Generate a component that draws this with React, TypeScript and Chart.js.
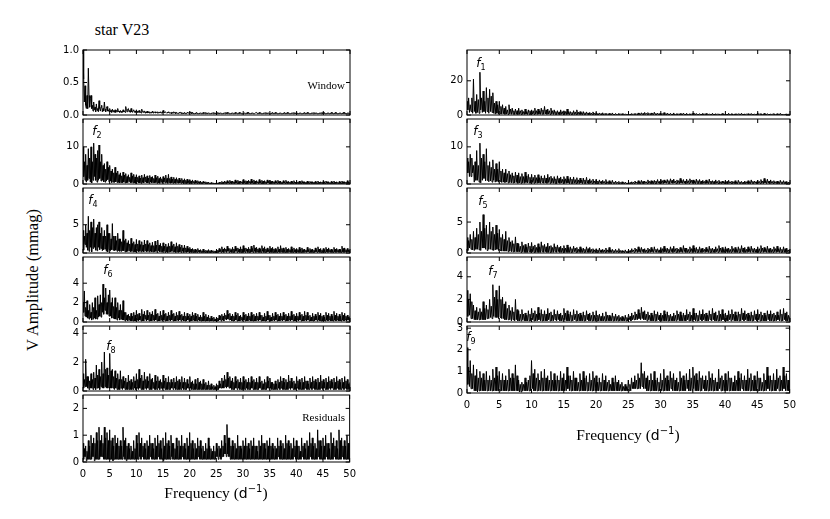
import React, { useEffect, useRef } from "react";
import { Chart, registerables } from "chart.js";

Chart.register(...registerables);

// Frequency grid of the periodograms (d^-1), 0 .. 50
const FREQ_STEP = 0.125;
const X_TICK_STEP = 5;

// Amplitudes (window: relative; others: mmag), one row per 1 d^-1 (8 samples)
const windowAmp = [
  1.0, 0.55, 0.2, 0.45, 0.15, 0.1, 0.3, 0.1,
  0.72, 0.3, 0.12, 0.25, 0.3, 0.1, 0.15, 0.06,
  0.2, 0.08, 0.12, 0.05, 0.17, 0.07, 0.1, 0.05,
  0.22, 0.1, 0.06, 0.12, 0.15, 0.05, 0.1, 0.06,
  0.2, 0.09, 0.05, 0.1, 0.13, 0.06, 0.08, 0.05,
  0.1, 0.05, 0.07, 0.04, 0.09, 0.05, 0.07, 0.04,
  0.08, 0.04, 0.07, 0.05, 0.1, 0.05, 0.06, 0.04,
  0.07, 0.04, 0.06, 0.04, 0.08, 0.05, 0.06, 0.04,
  0.13, 0.07, 0.05, 0.09, 0.1, 0.05, 0.07, 0.04,
  0.1, 0.05, 0.04, 0.07, 0.08, 0.04, 0.06, 0.04,
  0.08, 0.04, 0.06, 0.04, 0.07, 0.04, 0.05, 0.03,
  0.09, 0.05, 0.04, 0.06, 0.06, 0.03, 0.05, 0.03,
  0.06, 0.03, 0.05, 0.03, 0.05, 0.03, 0.04, 0.03,
  0.06, 0.03, 0.05, 0.04, 0.05, 0.03, 0.04, 0.03,
  0.05, 0.03, 0.04, 0.03, 0.05, 0.03, 0.04, 0.03,
  0.07, 0.04, 0.03, 0.05, 0.05, 0.03, 0.04, 0.03,
  0.05, 0.03, 0.04, 0.03, 0.04, 0.02, 0.04, 0.03,
  0.05, 0.03, 0.04, 0.02, 0.04, 0.03, 0.03, 0.02,
  0.04, 0.03, 0.04, 0.02, 0.04, 0.02, 0.03, 0.02,
  0.04, 0.02, 0.03, 0.02, 0.04, 0.03, 0.03, 0.02,
  0.05, 0.03, 0.04, 0.02, 0.04, 0.02, 0.03, 0.02,
  0.03, 0.02, 0.04, 0.02, 0.03, 0.02, 0.03, 0.02,
  0.03, 0.02, 0.03, 0.02, 0.04, 0.02, 0.03, 0.02,
  0.04, 0.02, 0.03, 0.02, 0.03, 0.02, 0.03, 0.02,
  0.03, 0.02, 0.03, 0.02, 0.04, 0.02, 0.03, 0.02,
  0.03, 0.02, 0.04, 0.02, 0.03, 0.02, 0.03, 0.02,
  0.03, 0.02, 0.03, 0.02, 0.03, 0.02, 0.04, 0.02,
  0.04, 0.02, 0.03, 0.02, 0.03, 0.02, 0.03, 0.02,
  0.03, 0.02, 0.03, 0.02, 0.04, 0.02, 0.03, 0.02,
  0.03, 0.02, 0.04, 0.02, 0.03, 0.02, 0.03, 0.02,
  0.03, 0.02, 0.03, 0.02, 0.03, 0.02, 0.04, 0.02,
  0.04, 0.02, 0.03, 0.02, 0.03, 0.02, 0.03, 0.02,
  0.03, 0.02, 0.03, 0.03, 0.04, 0.02, 0.03, 0.02,
  0.04, 0.02, 0.03, 0.02, 0.03, 0.02, 0.03, 0.02,
  0.03, 0.02, 0.04, 0.02, 0.03, 0.02, 0.03, 0.02,
  0.03, 0.02, 0.03, 0.02, 0.04, 0.02, 0.03, 0.02,
  0.04, 0.02, 0.03, 0.02, 0.03, 0.02, 0.03, 0.02,
  0.03, 0.02, 0.03, 0.02, 0.03, 0.02, 0.04, 0.02,
  0.03, 0.02, 0.04, 0.02, 0.03, 0.02, 0.03, 0.02,
  0.03, 0.02, 0.03, 0.02, 0.04, 0.02, 0.03, 0.02,
  0.04, 0.02, 0.03, 0.02, 0.03, 0.02, 0.03, 0.02,
  0.03, 0.02, 0.03, 0.02, 0.04, 0.02, 0.03, 0.02,
  0.04, 0.02, 0.03, 0.02, 0.03, 0.02, 0.03, 0.02,
  0.03, 0.02, 0.04, 0.02, 0.03, 0.02, 0.03, 0.02,
  0.03, 0.02, 0.03, 0.02, 0.03, 0.02, 0.04, 0.02,
  0.04, 0.02, 0.03, 0.02, 0.03, 0.02, 0.03, 0.02,
  0.03, 0.02, 0.03, 0.02, 0.04, 0.02, 0.03, 0.02,
  0.03, 0.02, 0.04, 0.02, 0.03, 0.02, 0.03, 0.02,
  0.03, 0.02, 0.03, 0.02, 0.03, 0.02, 0.04, 0.02,
  0.04, 0.02, 0.03, 0.02, 0.03, 0.02, 0.03, 0.02,
  0.03,
];

const f1Amp = [
  8, 3, 10, 1.5, 6, 2, 10, 1,
  21, 2, 8, 1, 12, 1.5, 9, 1,
  25, 3, 10, 1.5, 14, 2, 8, 1,
  16, 2, 10, 1, 15, 2, 11, 1.5,
  13, 1, 7, 0.5, 8, 1, 6, 0.5,
  8, 0.8, 5, 0.5, 6, 0.7, 4, 0.4,
  5, 0.5, 3, 0.3, 6, 0.6, 3.5, 0.4,
  4, 0.5, 2.5, 0.3, 3.5, 0.4, 2.5, 0.3,
  4, 0.4, 2.5, 0.3, 3, 0.4, 2, 0.3,
  3.5, 0.5, 2, 0.3, 3, 0.4, 2.5, 0.2,
  3, 0.5, 2.5, 0.3, 4, 0.5, 2.5, 0.3,
  3.5, 0.5, 2.5, 0.4, 4, 0.5, 3, 0.4,
  5, 0.6, 3, 0.4, 3.5, 0.5, 2.5, 0.3,
  4, 0.5, 2.5, 0.3, 3, 0.4, 2, 0.2,
  2.5, 0.3, 1.8, 0.2, 3, 0.4, 2, 0.3,
  2.5, 0.3, 2, 0.2, 3.5, 0.4, 2, 0.2,
  2, 0.3, 1.5, 0.2, 2.5, 0.3, 1.8, 0.2,
  3, 0.3, 1.6, 0.2, 2, 0.3, 1.4, 0.2,
  2, 0.2, 1.3, 0.2, 1.8, 0.3, 1.2, 0.1,
  1.5, 0.2, 1.1, 0.1, 1.8, 0.2, 1, 0.1,
  1.5, 0.2, 0.9, 0.1, 1.2, 0.2, 0.8, 0.1,
  1.3, 0.1, 0.8, 0.1, 1.1, 0.2, 0.7, 0.1,
  1, 0.1, 0.7, 0.1, 1.2, 0.1, 0.6, 0.1,
  0.9, 0.1, 0.6, 0.1, 1, 0.1, 0.5, 0.1,
  0.8, 0.1, 0.5, 0.1, 0.7, 0.1, 0.4, 0.1,
  0.6, 0.1, 0.5, 0.1, 0.9, 0.2, 0.6, 0.1,
  1, 0.2, 0.7, 0.1, 1.2, 0.2, 0.8, 0.2,
  1.3, 0.2, 0.9, 0.2, 1.5, 0.3, 1, 0.2,
  1.4, 0.2, 0.8, 0.1, 1.2, 0.2, 0.9, 0.2,
  1.6, 0.2, 0.9, 0.1, 1.1, 0.2, 0.8, 0.1,
  1.2, 0.2, 0.8, 0.1, 1.4, 0.2, 0.7, 0.1,
  1.1, 0.1, 0.7, 0.1, 1, 0.2, 0.6, 0.1,
  1.2, 0.1, 0.6, 0.1, 0.9, 0.1, 0.7, 0.1,
  0.9, 0.1, 0.7, 0.1, 1.1, 0.2, 0.6, 0.1,
  1, 0.1, 0.6, 0.1, 0.8, 0.1, 0.7, 0.1,
  1.2, 0.2, 0.7, 0.1, 0.9, 0.1, 0.5, 0.1,
  0.8, 0.1, 0.6, 0.1, 1, 0.1, 0.7, 0.1,
  0.9, 0.1, 0.5, 0.1, 0.7, 0.1, 0.6, 0.1,
  1, 0.1, 0.6, 0.1, 0.8, 0.1, 0.5, 0.1,
  0.7, 0.1, 0.6, 0.1, 0.9, 0.1, 0.5, 0.1,
  0.8, 0.1, 0.5, 0.1, 1, 0.1, 0.6, 0.1,
  0.9, 0.1, 0.6, 0.1, 0.7, 0.1, 0.5, 0.1,
  0.8, 0.1, 0.7, 0.1, 1, 0.1, 0.6, 0.1,
  0.7, 0.1, 0.5, 0.1, 0.8, 0.1, 0.6, 0.1,
  0.9, 0.1, 0.6, 0.1, 0.7, 0.1, 0.5, 0.1,
  1.3, 0.2, 0.7, 0.1, 0.9, 0.1, 0.6, 0.1,
  1, 0.1, 0.6, 0.1, 0.8, 0.1, 0.5, 0.1,
  0.7, 0.1, 0.5, 0.1, 0.9, 0.1, 0.6, 0.1,
  0.8, 0.1, 0.6, 0.1, 1, 0.1, 0.5, 0.1,
  0.6, 0.1, 0.5, 0.1, 0.7, 0.1, 0.4, 0.1,
  0.5,
];

const f2Amp = [
  10, 2, 6, 1, 8, 0.5, 5, 1,
  9.5, 1.5, 7, 0.5, 10, 0.3, 6, 1,
  11, 2, 8, 1, 7, 0.5, 9, 1,
  10.5, 1.5, 6, 0.8, 8, 1, 5, 0.6,
  5.5, 0.5, 4, 0.8, 6, 1.2, 4.5, 0.5,
  5, 0.8, 3.5, 0.4, 4, 0.5, 3, 0.4,
  4.5, 0.6, 3, 0.4, 3.5, 0.4, 2.5, 0.3,
  3, 0.4, 2.2, 0.3, 3.2, 0.5, 2.4, 0.3,
  2.8, 0.3, 2, 0.4, 2.5, 0.7, 1.8, 0.3,
  3, 0.4, 2.2, 0.3, 2.6, 0.3, 1.9, 0.2,
  2.5, 0.6, 1.8, 0.3, 2.2, 0.3, 1.6, 0.2,
  2.4, 0.4, 1.7, 0.3, 2.6, 0.6, 1.9, 0.3,
  2.2, 0.3, 1.6, 0.2, 2.3, 0.5, 1.8, 0.3,
  2, 0.4, 1.5, 0.3, 2.4, 0.4, 1.7, 0.2,
  2.1, 0.3, 1.5, 0.2, 1.9, 0.5, 1.4, 0.2,
  2, 0.5, 1.6, 0.3, 2.4, 0.4, 1.5, 0.2,
  2.6, 0.4, 1.5, 0.2, 1.9, 0.3, 1.3, 0.2,
  1.8, 0.3, 1.3, 0.2, 1.7, 0.4, 1.2, 0.2,
  1.6, 0.3, 1.1, 0.2, 1.5, 0.3, 1, 0.1,
  1.4, 0.2, 1, 0.1, 1.3, 0.2, 0.9, 0.1,
  1.2, 0.2, 0.8, 0.1, 1.1, 0.3, 0.7, 0.1,
  1, 0.2, 0.7, 0.1, 0.9, 0.2, 0.6, 0.1,
  0.8, 0.1, 0.5, 0.1, 0.7, 0.2, 0.5, 0.1,
  0.6, 0.1, 0.4, 0.1, 0.5, 0.1, 0.3, 0.05,
  0.4, 0.1, 0.3, 0.05, 0.3, 0.05, 0.2, 0.05,
  0.4, 0.1, 0.3, 0.05, 0.5, 0.1, 0.4, 0.1,
  0.7, 0.1, 0.5, 0.1, 0.8, 0.2, 0.6, 0.1,
  0.9, 0.2, 0.6, 0.1, 1, 0.2, 0.7, 0.1,
  0.8, 0.2, 0.6, 0.1, 1.1, 0.2, 0.7, 0.1,
  1, 0.1, 0.7, 0.1, 0.8, 0.3, 0.6, 0.1,
  1.2, 0.2, 0.7, 0.1, 0.9, 0.1, 0.8, 0.1,
  1, 0.3, 0.7, 0.1, 1.3, 0.2, 0.8, 0.1,
  1.1, 0.1, 0.8, 0.1, 0.9, 0.3, 0.6, 0.1,
  1.2, 0.2, 0.7, 0.1, 1, 0.1, 0.8, 0.1,
  0.9, 0.2, 0.6, 0.1, 1.1, 0.3, 0.7, 0.1,
  1, 0.1, 0.7, 0.1, 0.8, 0.2, 0.6, 0.1,
  0.9, 0.2, 0.6, 0.1, 1, 0.2, 0.7, 0.1,
  0.8, 0.1, 0.5, 0.1, 0.9, 0.2, 0.6, 0.1,
  1, 0.2, 0.6, 0.1, 0.7, 0.2, 0.5, 0.1,
  0.8, 0.1, 0.6, 0.1, 0.9, 0.2, 0.5, 0.1,
  0.7, 0.2, 0.5, 0.1, 0.8, 0.1, 0.6, 0.1,
  0.9, 0.2, 0.6, 0.1, 0.6, 0.1, 0.5, 0.1,
  0.8, 0.1, 0.5, 0.1, 0.7, 0.2, 0.6, 0.1,
  0.6, 0.1, 0.5, 0.1, 0.7, 0.1, 0.4, 0.1,
  0.8, 0.1, 0.5, 0.1, 0.6, 0.2, 0.5, 0.1,
  0.7, 0.1, 0.5, 0.1, 0.8, 0.2, 0.6, 0.1,
  0.6, 0.1, 0.4, 0.1, 0.7, 0.1, 0.5, 0.1,
  0.8, 0.1, 0.5, 0.1, 0.6, 0.2, 0.4, 0.1,
  0.7, 0.1, 0.5, 0.1, 0.8, 0.1, 0.6, 0.1,
  0.6, 0.2, 0.5, 0.1, 0.9, 0.1, 0.5, 0.1,
  0.5,
];

const f3Amp = [
  7, 3, 6, 2, 8, 2, 7, 3,
  5, 0.5, 6, 1, 9, 1, 5, 0.5,
  11, 0.3, 7, 1, 8, 1.5, 6, 0.8,
  9.5, 1, 5, 0.6, 6, 0.8, 4.5, 0.5,
  6.5, 1, 4, 0.5, 5.5, 0.7, 4, 0.5,
  6, 0.7, 3.5, 0.4, 4, 0.5, 3, 0.4,
  4, 0.5, 2.8, 0.3, 3.5, 0.4, 2.5, 0.3,
  3, 0.3, 2.2, 0.3, 3.2, 0.4, 2.4, 0.2,
  3, 0.3, 2, 0.2, 2.8, 0.3, 2, 0.2,
  3.2, 0.4, 2.2, 0.3, 2.6, 0.3, 1.8, 0.2,
  2.6, 0.4, 1.8, 0.2, 2.4, 0.3, 1.7, 0.2,
  2.5, 0.3, 1.7, 0.2, 2.2, 0.4, 1.6, 0.2,
  2.3, 0.3, 1.6, 0.2, 2.6, 0.4, 1.8, 0.2,
  2.1, 0.3, 1.5, 0.2, 2, 0.2, 1.4, 0.1,
  2.2, 0.3, 1.5, 0.2, 1.9, 0.3, 1.3, 0.2,
  2, 0.2, 1.4, 0.2, 2.1, 0.3, 1.4, 0.1,
  1.8, 0.2, 1.3, 0.1, 1.9, 0.2, 1.2, 0.1,
  1.7, 0.2, 1.1, 0.1, 1.6, 0.3, 1.1, 0.1,
  1.6, 0.2, 1.1, 0.1, 1.8, 0.2, 1, 0.1,
  1.4, 0.2, 0.9, 0.1, 1.3, 0.2, 0.8, 0.1,
  1.3, 0.1, 0.8, 0.1, 1.1, 0.2, 0.7, 0.1,
  1, 0.2, 0.7, 0.1, 1.2, 0.1, 0.6, 0.1,
  0.9, 0.1, 0.6, 0.1, 1, 0.2, 0.5, 0.1,
  0.8, 0.1, 0.5, 0.1, 0.7, 0.1, 0.4, 0.05,
  0.6, 0.1, 0.4, 0.05, 0.5, 0.1, 0.3, 0.05,
  0.5, 0.1, 0.4, 0.1, 0.6, 0.1, 0.5, 0.1,
  0.8, 0.2, 0.5, 0.1, 0.9, 0.1, 0.6, 0.1,
  1, 0.1, 0.7, 0.1, 0.8, 0.2, 0.6, 0.1,
  1.1, 0.2, 0.7, 0.1, 0.9, 0.1, 0.8, 0.1,
  1, 0.1, 0.8, 0.1, 1.2, 0.2, 0.7, 0.1,
  1.3, 0.2, 0.9, 0.1, 1.1, 0.3, 0.8, 0.2,
  1.2, 0.2, 0.9, 0.1, 1.4, 0.3, 1, 0.2,
  1.3, 0.3, 0.8, 0.1, 1.1, 0.2, 0.9, 0.1,
  1.5, 0.3, 1, 0.2, 1.2, 0.2, 0.8, 0.1,
  1.3, 0.2, 0.9, 0.1, 1.4, 0.3, 1, 0.2,
  1.1, 0.2, 0.8, 0.1, 1.3, 0.2, 0.9, 0.1,
  1.2, 0.1, 0.8, 0.1, 1, 0.2, 0.7, 0.1,
  1.1, 0.2, 0.7, 0.1, 1.3, 0.2, 0.8, 0.1,
  0.9, 0.1, 0.7, 0.1, 1.1, 0.2, 0.7, 0.1,
  1, 0.1, 0.6, 0.1, 0.8, 0.2, 0.6, 0.1,
  0.9, 0.1, 0.7, 0.1, 1, 0.2, 0.6, 0.1,
  0.8, 0.1, 0.6, 0.1, 0.9, 0.1, 0.5, 0.1,
  1, 0.2, 0.6, 0.1, 0.7, 0.1, 0.5, 0.1,
  0.8, 0.1, 0.6, 0.1, 0.9, 0.1, 0.6, 0.1,
  1.1, 0.2, 0.7, 0.1, 0.8, 0.2, 0.6, 0.1,
  1, 0.2, 0.7, 0.1, 1.2, 0.2, 0.8, 0.1,
  1.5, 0.3, 0.9, 0.1, 1.3, 0.2, 0.8, 0.1,
  1.1, 0.2, 0.7, 0.1, 0.9, 0.2, 0.6, 0.1,
  0.8, 0.1, 0.6, 0.1, 1, 0.2, 0.6, 0.1,
  0.9, 0.1, 0.6, 0.1, 0.7, 0.1, 0.5, 0.1,
  0.5,
];

const f4Amp = [
  4, 0.5, 3, 1.5, 5, 1, 3.5, 0.5,
  6.5, 0.3, 4, 1, 5.5, 0.2, 4.5, 0.8,
  6, 1, 3.5, 0.5, 4.5, 0.4, 5, 1,
  5.5, 0.6, 3.5, 0.8, 4.5, 0.4, 3, 0.6,
  4, 0.7, 3, 0.3, 5, 0.2, 3.5, 0.6,
  3.5, 0.4, 2.5, 0.6, 5.2, 0.5, 3, 0.4,
  3, 0.5, 2.2, 0.3, 3.5, 0.4, 2.5, 0.3,
  2.5, 0.3, 2, 0.4, 4, 0.4, 2.2, 0.2,
  2.5, 0.2, 1.8, 0.3, 2.2, 0.4, 1.6, 0.2,
  2.6, 0.3, 1.7, 0.2, 2, 0.2, 1.5, 0.2,
  2.4, 0.4, 1.6, 0.2, 2.2, 0.3, 1.5, 0.2,
  2, 0.3, 1.4, 0.2, 2.3, 0.4, 1.6, 0.2,
  2.2, 0.3, 1.5, 0.2, 1.8, 0.3, 1.3, 0.2,
  1.9, 0.2, 1.3, 0.2, 2.1, 0.3, 1.4, 0.1,
  2.3, 0.4, 1.4, 0.2, 1.7, 0.2, 1.2, 0.2,
  1.8, 0.3, 1.2, 0.1, 1.6, 0.2, 1.1, 0.1,
  1.7, 0.2, 1.2, 0.2, 2, 0.3, 1.3, 0.2,
  1.6, 0.2, 1.1, 0.1, 1.8, 0.2, 1.2, 0.1,
  1.5, 0.2, 1, 0.1, 1.4, 0.3, 0.9, 0.1,
  1.4, 0.2, 0.9, 0.1, 1.2, 0.2, 0.8, 0.1,
  1, 0.2, 0.7, 0.1, 0.8, 0.1, 0.6, 0.1,
  0.7, 0.1, 0.5, 0.1, 0.8, 0.2, 0.5, 0.1,
  0.6, 0.1, 0.4, 0.1, 0.7, 0.1, 0.4, 0.05,
  0.5, 0.1, 0.4, 0.05, 0.6, 0.1, 0.4, 0.05,
  0.5, 0.1, 0.3, 0.05, 0.4, 0.1, 0.3, 0.05,
  0.6, 0.1, 0.5, 0.1, 0.8, 0.2, 0.6, 0.1,
  1.1, 0.2, 0.7, 0.1, 0.9, 0.3, 0.7, 0.1,
  1.2, 0.3, 0.8, 0.1, 0.8, 0.2, 0.6, 0.1,
  1, 0.1, 0.7, 0.1, 1.2, 0.3, 0.8, 0.1,
  0.9, 0.2, 0.7, 0.1, 1.1, 0.1, 0.7, 0.1,
  1.3, 0.2, 0.8, 0.1, 0.9, 0.3, 0.7, 0.1,
  1, 0.1, 0.7, 0.1, 1.2, 0.2, 0.8, 0.1,
  1.4, 0.3, 0.9, 0.1, 1, 0.2, 0.7, 0.1,
  0.9, 0.1, 0.7, 0.1, 1.3, 0.3, 0.8, 0.1,
  1.1, 0.1, 0.7, 0.1, 0.9, 0.2, 0.6, 0.1,
  1.2, 0.2, 0.8, 0.1, 1, 0.1, 0.7, 0.1,
  0.8, 0.1, 0.6, 0.1, 1.1, 0.2, 0.7, 0.1,
  1.3, 0.2, 0.8, 0.1, 0.9, 0.1, 0.6, 0.1,
  1, 0.1, 0.7, 0.1, 0.8, 0.2, 0.6, 0.1,
  1.1, 0.1, 0.7, 0.1, 0.9, 0.2, 0.6, 0.1,
  0.8, 0.2, 0.6, 0.1, 1, 0.1, 0.7, 0.1,
  0.9, 0.1, 0.6, 0.1, 0.7, 0.2, 0.5, 0.1,
  1, 0.2, 0.6, 0.1, 0.8, 0.1, 0.6, 0.1,
  0.7, 0.1, 0.5, 0.1, 0.9, 0.2, 0.6, 0.1,
  1.1, 0.2, 0.7, 0.1, 0.8, 0.1, 0.5, 0.1,
  0.8, 0.1, 0.6, 0.1, 1, 0.2, 0.7, 0.1,
  0.9, 0.2, 0.6, 0.1, 0.7, 0.1, 0.5, 0.1,
  1, 0.2, 0.7, 0.1, 0.8, 0.2, 0.6, 0.1,
  0.7, 0.1, 0.6, 0.1, 1.2, 0.2, 0.8, 0.1,
  0.9, 0.2, 0.6, 0.1, 0.8, 0.2, 0.5, 0.1,
  0.6,
];

const f5Amp = [
  2.5, 0.4, 2, 0.8, 3, 0.6, 2.2, 0.5,
  3.5, 0.4, 2.5, 0.6, 4, 0.6, 3, 0.5,
  5, 0.4, 3.5, 0.8, 6.2, 0.8, 4, 0.6,
  4.5, 0.4, 3, 0.6, 5, 0.6, 3.5, 0.5,
  4.2, 0.4, 3, 0.5, 4.5, 0.6, 3.2, 0.4,
  3.8, 0.4, 2.5, 0.3, 3, 0.3, 2.2, 0.3,
  3.5, 0.3, 2, 0.2, 2.5, 0.3, 1.8, 0.2,
  2, 0.2, 1.5, 0.2, 2.6, 0.2, 1.6, 0.2,
  1.5, 0.2, 1.1, 0.1, 1.8, 0.2, 1.2, 0.1,
  1.4, 0.1, 1, 0.1, 1.6, 0.2, 1.1, 0.1,
  1.7, 0.2, 1.1, 0.1, 1.3, 0.1, 0.9, 0.1,
  1.5, 0.1, 1, 0.1, 1.8, 0.2, 1.2, 0.1,
  1.4, 0.2, 1, 0.1, 1.6, 0.1, 1.1, 0.1,
  1.2, 0.1, 0.9, 0.1, 1.5, 0.2, 1, 0.1,
  1.3, 0.2, 0.9, 0.1, 1.1, 0.1, 0.8, 0.1,
  1.2, 0.1, 0.8, 0.1, 1.3, 0.1, 0.9, 0.1,
  1, 0.1, 0.7, 0.1, 1.1, 0.2, 0.8, 0.1,
  0.9, 0.1, 0.6, 0.1, 1, 0.1, 0.7, 0.1,
  0.8, 0.1, 0.6, 0.1, 1, 0.1, 0.7, 0.1,
  0.9, 0.1, 0.6, 0.1, 0.7, 0.1, 0.5, 0.1,
  0.7, 0.1, 0.5, 0.1, 0.8, 0.1, 0.5, 0.1,
  0.6, 0.1, 0.5, 0.1, 0.8, 0.1, 0.5, 0.1,
  0.9, 0.1, 0.5, 0.1, 0.6, 0.1, 0.4, 0.1,
  0.6, 0.1, 0.4, 0.1, 0.7, 0.1, 0.4, 0.05,
  0.4, 0.1, 0.3, 0.05, 0.5, 0.1, 0.3, 0.05,
  0.5, 0.1, 0.4, 0.1, 0.7, 0.2, 0.5, 0.1,
  0.8, 0.2, 0.6, 0.1, 1, 0.2, 0.7, 0.1,
  0.9, 0.2, 0.6, 0.1, 0.7, 0.1, 0.5, 0.1,
  0.8, 0.1, 0.6, 0.1, 0.9, 0.2, 0.6, 0.1,
  1, 0.2, 0.6, 0.1, 0.7, 0.1, 0.5, 0.1,
  0.9, 0.1, 0.7, 0.1, 1.1, 0.2, 0.7, 0.1,
  0.8, 0.1, 0.6, 0.1, 1, 0.2, 0.7, 0.1,
  1.1, 0.2, 0.7, 0.1, 0.8, 0.1, 0.6, 0.1,
  0.9, 0.2, 0.7, 0.1, 1.2, 0.2, 0.8, 0.1,
  0.8, 0.1, 0.6, 0.1, 1, 0.2, 0.7, 0.1,
  1.2, 0.2, 0.8, 0.1, 0.9, 0.1, 0.6, 0.1,
  1, 0.1, 0.7, 0.1, 0.8, 0.2, 0.6, 0.1,
  0.9, 0.2, 0.6, 0.1, 1.1, 0.1, 0.7, 0.1,
  0.8, 0.1, 0.6, 0.1, 1, 0.2, 0.7, 0.1,
  1.2, 0.2, 0.8, 0.1, 0.9, 0.1, 0.6, 0.1,
  1, 0.2, 0.7, 0.1, 0.8, 0.1, 0.6, 0.1,
  1.1, 0.2, 0.7, 0.1, 0.9, 0.1, 0.6, 0.1,
  1, 0.1, 0.7, 0.1, 1.2, 0.2, 0.8, 0.1,
  0.9, 0.1, 0.6, 0.1, 1, 0.2, 0.7, 0.1,
  1.1, 0.2, 0.7, 0.1, 0.8, 0.1, 0.6, 0.1,
  1, 0.1, 0.7, 0.1, 1.2, 0.2, 0.8, 0.1,
  0.9, 0.2, 0.7, 0.1, 1.1, 0.1, 0.7, 0.1,
  0.8, 0.1, 0.6, 0.1, 1, 0.2, 0.7, 0.1,
  1.1, 0.2, 0.7, 0.1, 0.9, 0.1, 0.6, 0.1,
  1, 0.1, 0.7, 0.1, 0.8, 0.2, 0.5, 0.1,
  0.6,
];

const f6Amp = [
  2, 1, 3.2, 0.6, 1.5, 0.5, 2.2, 0.4,
  1.2, 0.3, 1.8, 0.4, 1, 0.2, 2, 0.3,
  1.5, 0.4, 2.5, 0.3, 1.2, 0.3, 2.7, 0.5,
  1.8, 0.6, 2.8, 0.5, 2, 1, 3.9, 0.8,
  2.5, 1.2, 3.5, 0.8, 2, 0.8, 2.8, 0.6,
  3.3, 0.6, 2, 0.4, 2.5, 0.4, 1.6, 0.3,
  2.5, 0.3, 1.5, 0.2, 2, 0.4, 1.2, 0.2,
  1.8, 0.3, 1.2, 0.2, 2.2, 0.2, 1, 0.1,
  1, 0.2, 0.7, 0.1, 0.8, 0.2, 0.6, 0.1,
  0.9, 0.1, 0.6, 0.1, 1, 0.1, 0.7, 0.1,
  1.2, 0.2, 0.8, 0.1, 0.9, 0.2, 0.6, 0.1,
  1.3, 0.1, 0.8, 0.1, 1.1, 0.3, 0.7, 0.1,
  1.2, 0.2, 0.7, 0.1, 1, 0.1, 0.8, 0.1,
  1.1, 0.2, 0.7, 0.1, 1.3, 0.2, 0.8, 0.1,
  0.9, 0.1, 0.6, 0.1, 1.1, 0.2, 0.7, 0.1,
  1.2, 0.2, 0.8, 0.1, 0.9, 0.1, 0.6, 0.1,
  1, 0.2, 0.7, 0.1, 1.2, 0.2, 0.8, 0.1,
  0.9, 0.1, 0.6, 0.1, 1, 0.2, 0.7, 0.1,
  1.1, 0.2, 0.7, 0.1, 0.8, 0.2, 0.6, 0.1,
  1, 0.1, 0.6, 0.1, 0.9, 0.2, 0.6, 0.1,
  0.8, 0.1, 0.6, 0.1, 1, 0.2, 0.7, 0.1,
  0.9, 0.1, 0.6, 0.1, 0.8, 0.2, 0.5, 0.1,
  0.7, 0.1, 0.5, 0.1, 1, 0.1, 0.6, 0.1,
  0.8, 0.1, 0.5, 0.1, 0.7, 0.1, 0.4, 0.1,
  0.6, 0.1, 0.4, 0.1, 0.5, 0.1, 0.3, 0.1,
  0.5, 0.1, 0.4, 0.1, 0.7, 0.2, 0.6, 0.1,
  0.8, 0.2, 0.6, 0.1, 0.9, 0.3, 0.7, 0.2,
  1.2, 0.3, 0.8, 0.2, 0.9, 0.2, 0.6, 0.1,
  0.8, 0.1, 0.6, 0.1, 1, 0.2, 0.7, 0.1,
  0.9, 0.1, 0.6, 0.1, 0.7, 0.2, 0.5, 0.1,
  1, 0.2, 0.7, 0.1, 0.8, 0.1, 0.6, 0.1,
  0.9, 0.2, 0.6, 0.1, 1, 0.1, 0.7, 0.1,
  0.8, 0.1, 0.6, 0.1, 0.9, 0.2, 0.6, 0.1,
  1, 0.2, 0.7, 0.1, 0.7, 0.1, 0.5, 0.1,
  0.9, 0.1, 0.6, 0.1, 1.1, 0.2, 0.7, 0.1,
  0.7, 0.1, 0.5, 0.1, 0.9, 0.2, 0.6, 0.1,
  1, 0.2, 0.7, 0.1, 0.8, 0.1, 0.6, 0.1,
  0.9, 0.2, 0.6, 0.1, 1, 0.2, 0.7, 0.1,
  0.8, 0.1, 0.6, 0.1, 0.9, 0.2, 0.6, 0.1,
  1.1, 0.2, 0.7, 0.1, 0.8, 0.1, 0.6, 0.1,
  0.9, 0.2, 0.6, 0.1, 1, 0.2, 0.7, 0.1,
  0.8, 0.1, 0.6, 0.1, 1.1, 0.2, 0.7, 0.1,
  1, 0.2, 0.6, 0.1, 0.7, 0.1, 0.5, 0.1,
  0.9, 0.1, 0.6, 0.1, 0.8, 0.2, 0.6, 0.1,
  1, 0.2, 0.7, 0.1, 0.9, 0.1, 0.6, 0.1,
  0.7, 0.1, 0.5, 0.1, 1, 0.2, 0.7, 0.1,
  0.9, 0.2, 0.6, 0.1, 0.8, 0.1, 0.6, 0.1,
  1.1, 0.2, 0.7, 0.1, 0.9, 0.2, 0.6, 0.1,
  0.8, 0.1, 0.6, 0.1, 1, 0.2, 0.7, 0.1,
  0.9, 0.2, 0.6, 0.1, 0.7, 0.2, 0.5, 0.1,
  0.6,
];

const f7Amp = [
  2.8, 0.5, 2, 0.6, 2.5, 0.3, 1.8, 0.3,
  1.5, 0.2, 1, 0.2, 1.3, 0.2, 0.9, 0.2,
  1.2, 0.2, 0.9, 0.2, 1.8, 0.2, 1.2, 0.2,
  1.5, 0.3, 1.1, 0.3, 2, 0.4, 1.4, 0.3,
  3.3, 0.5, 2.2, 0.4, 2.8, 0.4, 2, 0.3,
  3.2, 0.4, 2, 0.3, 2.2, 0.3, 1.6, 0.2,
  1.8, 0.2, 1.2, 0.2, 1.5, 0.2, 1, 0.1,
  1.3, 0.2, 0.9, 0.1, 2, 0.2, 1.1, 0.1,
  1, 0.1, 0.7, 0.1, 1.1, 0.2, 0.7, 0.1,
  0.8, 0.1, 0.6, 0.1, 1, 0.1, 0.7, 0.1,
  1.2, 0.2, 0.8, 0.1, 1, 0.1, 0.7, 0.1,
  1.3, 0.2, 0.8, 0.1, 1.1, 0.1, 0.7, 0.1,
  1, 0.1, 0.7, 0.1, 1.2, 0.2, 0.8, 0.1,
  0.9, 0.1, 0.6, 0.1, 1.1, 0.2, 0.7, 0.1,
  1, 0.2, 0.7, 0.1, 0.8, 0.1, 0.6, 0.1,
  1.2, 0.2, 0.8, 0.1, 1, 0.1, 0.7, 0.1,
  0.9, 0.1, 0.6, 0.1, 1.1, 0.2, 0.7, 0.1,
  1, 0.1, 0.7, 0.1, 0.8, 0.1, 0.6, 0.1,
  0.9, 0.1, 0.6, 0.1, 1, 0.2, 0.7, 0.1,
  0.8, 0.1, 0.6, 0.1, 0.9, 0.1, 0.6, 0.1,
  1, 0.1, 0.6, 0.1, 0.7, 0.1, 0.5, 0.1,
  0.8, 0.1, 0.5, 0.1, 0.9, 0.1, 0.6, 0.1,
  0.6, 0.1, 0.5, 0.1, 0.8, 0.1, 0.5, 0.1,
  0.7, 0.1, 0.5, 0.1, 0.6, 0.1, 0.4, 0.1,
  0.5, 0.1, 0.4, 0.1, 0.6, 0.1, 0.4, 0.1,
  0.7, 0.2, 0.5, 0.1, 0.8, 0.2, 0.6, 0.2,
  0.9, 0.2, 0.7, 0.2, 1.1, 0.3, 0.8, 0.2,
  1.3, 0.3, 0.9, 0.2, 1, 0.2, 0.7, 0.1,
  0.9, 0.2, 0.6, 0.1, 0.8, 0.1, 0.6, 0.1,
  1, 0.1, 0.7, 0.1, 0.9, 0.2, 0.6, 0.1,
  0.8, 0.1, 0.6, 0.1, 1, 0.1, 0.7, 0.1,
  0.9, 0.1, 0.6, 0.1, 0.7, 0.1, 0.5, 0.1,
  0.8, 0.1, 0.6, 0.1, 1, 0.2, 0.7, 0.1,
  0.9, 0.1, 0.6, 0.1, 0.8, 0.1, 0.6, 0.1,
  1.1, 0.2, 0.7, 0.1, 0.9, 0.1, 0.6, 0.1,
  1.2, 0.2, 0.8, 0.1, 0.8, 0.1, 0.6, 0.1,
  1, 0.2, 0.7, 0.1, 1.1, 0.2, 0.7, 0.1,
  0.8, 0.1, 0.6, 0.1, 1, 0.2, 0.7, 0.1,
  1.2, 0.2, 0.8, 0.1, 0.9, 0.1, 0.6, 0.1,
  1, 0.1, 0.7, 0.1, 1.1, 0.2, 0.7, 0.1,
  0.8, 0.1, 0.6, 0.1, 1, 0.2, 0.7, 0.1,
  1.1, 0.2, 0.7, 0.1, 0.9, 0.1, 0.6, 0.1,
  0.9, 0.1, 0.7, 0.1, 1.2, 0.2, 0.8, 0.1,
  1, 0.2, 0.7, 0.1, 0.8, 0.1, 0.6, 0.1,
  0.9, 0.1, 0.6, 0.1, 1, 0.2, 0.7, 0.1,
  1.1, 0.2, 0.7, 0.1, 0.9, 0.1, 0.6, 0.1,
  0.8, 0.1, 0.6, 0.1, 1, 0.2, 0.7, 0.1,
  1, 0.1, 0.7, 0.1, 0.8, 0.1, 0.6, 0.1,
  0.9, 0.2, 0.6, 0.1, 1.1, 0.1, 0.7, 0.1,
  1.2, 0.2, 0.8, 0.1, 0.9, 0.1, 0.6, 0.1,
  0.5,
];

const f8Amp = [
  1.2, 0.2, 0.8, 0.3, 2.2, 0.3, 1, 0.2,
  1, 0.1, 0.7, 0.2, 1.2, 0.2, 0.8, 0.1,
  1.3, 0.2, 0.9, 0.1, 1.8, 0.2, 1.1, 0.2,
  1.5, 0.1, 1, 0.3, 2, 0.2, 1.2, 0.2,
  2.7, 0.3, 1.5, 0.2, 1.6, 0.2, 1.1, 0.2,
  2.6, 0.2, 1.4, 0.2, 1.5, 0.2, 1, 0.1,
  1.4, 0.2, 0.9, 0.1, 1.2, 0.1, 0.8, 0.1,
  1.4, 0.2, 0.8, 0.1, 1, 0.2, 0.7, 0.1,
  0.9, 0.1, 0.6, 0.1, 1.1, 0.1, 0.7, 0.1,
  0.8, 0.1, 0.6, 0.1, 1, 0.2, 0.7, 0.1,
  1.2, 0.2, 0.8, 0.1, 1.5, 0.2, 0.9, 0.1,
  1.1, 0.1, 0.7, 0.1, 1.3, 0.2, 0.8, 0.1,
  1, 0.2, 0.7, 0.1, 1.2, 0.1, 0.8, 0.1,
  0.9, 0.2, 0.6, 0.1, 1.1, 0.1, 0.7, 0.1,
  1, 0.2, 0.7, 0.1, 0.8, 0.2, 0.6, 0.1,
  1.1, 0.2, 0.7, 0.1, 0.9, 0.1, 0.6, 0.1,
  1, 0.1, 0.6, 0.1, 0.8, 0.2, 0.6, 0.1,
  0.9, 0.2, 0.6, 0.1, 1, 0.1, 0.7, 0.1,
  0.8, 0.1, 0.6, 0.1, 1, 0.2, 0.6, 0.1,
  0.9, 0.1, 0.6, 0.1, 0.8, 0.2, 0.5, 0.1,
  1, 0.2, 0.6, 0.1, 0.7, 0.1, 0.5, 0.1,
  0.8, 0.1, 0.5, 0.1, 0.9, 0.1, 0.6, 0.1,
  0.7, 0.1, 0.5, 0.1, 0.8, 0.1, 0.5, 0.1,
  0.6, 0.1, 0.4, 0.1, 0.7, 0.1, 0.4, 0.1,
  0.5, 0.1, 0.3, 0.1, 0.4, 0.1, 0.3, 0.1,
  0.5, 0.1, 0.4, 0.1, 0.7, 0.2, 0.5, 0.2,
  0.9, 0.2, 0.7, 0.2, 1.1, 0.3, 0.8, 0.2,
  1.3, 0.3, 0.9, 0.2, 1, 0.2, 0.7, 0.1,
  0.9, 0.1, 0.6, 0.1, 1, 0.2, 0.7, 0.1,
  0.8, 0.2, 0.6, 0.1, 0.9, 0.1, 0.6, 0.1,
  1, 0.1, 0.7, 0.1, 0.8, 0.2, 0.6, 0.1,
  0.9, 0.1, 0.6, 0.1, 1, 0.2, 0.7, 0.1,
  0.8, 0.1, 0.6, 0.1, 0.9, 0.1, 0.6, 0.1,
  1, 0.2, 0.6, 0.1, 0.7, 0.1, 0.5, 0.1,
  0.8, 0.1, 0.6, 0.1, 1, 0.2, 0.7, 0.1,
  0.9, 0.2, 0.6, 0.1, 0.6, 0.1, 0.5, 0.1,
  0.7, 0.1, 0.5, 0.1, 0.8, 0.2, 0.6, 0.1,
  1, 0.2, 0.7, 0.1, 0.9, 0.1, 0.6, 0.1,
  0.8, 0.1, 0.6, 0.1, 1.1, 0.2, 0.7, 0.1,
  0.9, 0.2, 0.6, 0.1, 0.7, 0.1, 0.5, 0.1,
  1, 0.2, 0.7, 0.1, 0.8, 0.1, 0.6, 0.1,
  0.9, 0.1, 0.6, 0.1, 1, 0.2, 0.7, 0.1,
  0.7, 0.1, 0.5, 0.1, 0.9, 0.2, 0.6, 0.1,
  1, 0.2, 0.7, 0.1, 0.8, 0.1, 0.6, 0.1,
  0.9, 0.1, 0.6, 0.1, 1.1, 0.2, 0.7, 0.1,
  0.8, 0.2, 0.6, 0.1, 0.9, 0.1, 0.6, 0.1,
  1, 0.2, 0.7, 0.1, 0.8, 0.2, 0.6, 0.1,
  0.9, 0.1, 0.6, 0.1, 1, 0.2, 0.7, 0.1,
  0.8, 0.1, 0.6, 0.1, 0.9, 0.2, 0.6, 0.1,
  1, 0.2, 0.7, 0.1, 0.8, 0.1, 0.5, 0.1,
  0.6,
];

const f9Amp = [
  2.1, 0.4, 1.2, 0.3, 1.5, 0.2, 0.9, 0.2,
  1.3, 0.1, 0.8, 0.1, 1.1, 0.05, 0.7, 0.1,
  1, 0.1, 0.7, 0.1, 0.9, 0.1, 0.6, 0.1,
  1, 0.1, 0.6, 0.1, 0.8, 0.1, 0.6, 0.1,
  1.1, 0.1, 0.7, 0.1, 1.2, 0.1, 0.8, 0.1,
  1, 0.1, 0.6, 0.1, 0.9, 0.1, 0.6, 0.1,
  0.8, 0.1, 0.6, 0.1, 1.1, 0.1, 0.7, 0.1,
  0.9, 0.1, 0.7, 0.1, 1.3, 0.1, 0.8, 0.1,
  0.6, 0.05, 0.4, 0.05, 0.5, 0.1, 0.4, 0.1,
  0.7, 0.1, 0.5, 0.1, 0.6, 0.1, 0.8, 0.1,
  1.5, 0.2, 0.9, 0.1, 1.1, 0.1, 0.7, 0.1,
  0.9, 0.1, 0.6, 0.1, 1, 0.1, 0.7, 0.1,
  1.1, 0.1, 0.7, 0.1, 0.8, 0.1, 0.6, 0.1,
  1, 0.1, 0.6, 0.1, 0.9, 0.1, 0.6, 0.1,
  0.8, 0.1, 0.6, 0.1, 1, 0.1, 0.7, 0.1,
  0.9, 0.1, 0.6, 0.1, 1.2, 0.2, 0.8, 0.1,
  0.8, 0.1, 0.6, 0.1, 1, 0.1, 0.7, 0.1,
  0.7, 0.1, 0.5, 0.1, 0.9, 0.1, 0.6, 0.1,
  1, 0.1, 0.7, 0.1, 0.8, 0.1, 0.5, 0.1,
  0.9, 0.1, 0.6, 0.1, 1, 0.1, 0.7, 0.1,
  0.8, 0.1, 0.5, 0.1, 0.7, 0.1, 0.5, 0.1,
  0.9, 0.1, 0.6, 0.1, 0.8, 0.1, 0.5, 0.1,
  0.6, 0.1, 0.4, 0.1, 0.7, 0.1, 0.5, 0.1,
  0.8, 0.1, 0.5, 0.1, 0.6, 0.1, 0.4, 0.1,
  0.5, 0.1, 0.3, 0.1, 0.4, 0.1, 0.3, 0.1,
  0.6, 0.1, 0.4, 0.1, 0.7, 0.2, 0.5, 0.2,
  0.8, 0.2, 0.6, 0.2, 0.9, 0.2, 0.7, 0.2,
  1.4, 0.3, 0.9, 0.2, 1, 0.2, 0.7, 0.1,
  0.8, 0.1, 0.6, 0.1, 0.9, 0.1, 0.6, 0.1,
  1, 0.1, 0.6, 0.1, 0.7, 0.1, 0.5, 0.1,
  0.9, 0.1, 0.6, 0.1, 1.1, 0.1, 0.7, 0.1,
  0.8, 0.1, 0.6, 0.1, 1, 0.2, 0.7, 0.1,
  0.9, 0.1, 0.6, 0.1, 0.7, 0.1, 0.5, 0.1,
  1, 0.1, 0.7, 0.1, 0.8, 0.1, 0.6, 0.1,
  0.9, 0.2, 0.6, 0.1, 1.1, 0.1, 0.7, 0.1,
  1.2, 0.2, 0.8, 0.1, 0.9, 0.1, 0.6, 0.1,
  1, 0.1, 0.7, 0.1, 0.8, 0.2, 0.6, 0.1,
  0.8, 0.1, 0.6, 0.1, 1, 0.1, 0.7, 0.1,
  0.9, 0.1, 0.6, 0.1, 0.7, 0.1, 0.5, 0.1,
  1.1, 0.2, 0.7, 0.1, 0.8, 0.1, 0.6, 0.1,
  0.9, 0.1, 0.6, 0.1, 1, 0.1, 0.7, 0.1,
  0.7, 0.1, 0.5, 0.1, 0.8, 0.1, 0.6, 0.1,
  1, 0.1, 0.7, 0.1, 0.9, 0.2, 0.6, 0.1,
  0.8, 0.1, 0.6, 0.1, 1.1, 0.1, 0.7, 0.1,
  0.9, 0.1, 0.6, 0.1, 0.8, 0.1, 0.6, 0.1,
  1, 0.1, 0.7, 0.1, 0.7, 0.1, 0.5, 0.1,
  0.9, 0.1, 0.6, 0.1, 1.2, 0.2, 0.8, 0.1,
  0.8, 0.1, 0.6, 0.1, 0.9, 0.1, 0.6, 0.1,
  1.1, 0.2, 0.7, 0.1, 0.8, 0.1, 0.6, 0.1,
  1.2, 0.2, 0.8, 0.1, 0.9, 0.1, 0.6, 0.1,
  0.6,
];

const residualAmp = [
  0.7, 0.1, 0.5, 0.2, 0.6, 0.05, 0.4, 0.1,
  0.8, 0.1, 0.6, 0.1, 1, 0.1, 0.7, 0.2,
  0.9, 0.05, 0.7, 0.1, 1.1, 0.1, 0.8, 0.1,
  1.3, 0.1, 0.8, 0.2, 1, 0.2, 0.7, 0.1,
  1.3, 0.1, 0.9, 0.1, 1.1, 0.1, 0.8, 0.1,
  1.2, 0.1, 0.8, 0.1, 0.9, 0.05, 0.6, 0.1,
  1, 0.1, 0.7, 0.1, 0.9, 0.1, 0.6, 0.1,
  0.8, 0.1, 0.6, 0.1, 1.3, 0.2, 0.8, 0.1,
  0.9, 0.05, 0.6, 0.1, 0.7, 0.1, 0.5, 0.1,
  0.6, 0.1, 0.4, 0.1, 0.8, 0.1, 0.5, 0.1,
  1, 0.1, 0.7, 0.1, 1.1, 0.2, 0.7, 0.1,
  0.9, 0.2, 0.6, 0.1, 0.7, 0.1, 0.5, 0.1,
  0.8, 0.1, 0.6, 0.1, 1, 0.2, 0.7, 0.1,
  0.7, 0.1, 0.5, 0.1, 0.9, 0.1, 0.6, 0.1,
  1, 0.2, 0.7, 0.1, 0.8, 0.1, 0.5, 0.1,
  0.9, 0.05, 0.6, 0.1, 1.1, 0.1, 0.7, 0.1,
  0.8, 0.1, 0.6, 0.1, 1, 0.2, 0.7, 0.1,
  0.7, 0.1, 0.5, 0.1, 0.9, 0.1, 0.6, 0.1,
  0.8, 0.1, 0.6, 0.1, 1, 0.2, 0.6, 0.1,
  0.7, 0.1, 0.5, 0.1, 0.9, 0.1, 0.6, 0.1,
  1.1, 0.1, 0.7, 0.1, 0.8, 0.1, 0.5, 0.1,
  0.7, 0.1, 0.5, 0.1, 0.9, 0.2, 0.6, 0.1,
  0.8, 0.1, 0.5, 0.1, 0.6, 0.1, 0.4, 0.1,
  0.7, 0.1, 0.5, 0.1, 0.9, 0.1, 0.6, 0.1,
  0.5, 0.1, 0.4, 0.1, 0.6, 0.1, 0.4, 0.1,
  0.7, 0.2, 0.5, 0.1, 0.6, 0.2, 0.5, 0.1,
  0.8, 0.2, 0.6, 0.2, 1, 0.3, 0.7, 0.2,
  1.4, 0.3, 0.9, 0.2, 0.9, 0.1, 0.6, 0.1,
  0.8, 0.1, 0.6, 0.1, 0.7, 0.1, 0.5, 0.1,
  1, 0.1, 0.6, 0.1, 0.6, 0.1, 0.5, 0.1,
  0.8, 0.1, 0.6, 0.1, 0.9, 0.1, 0.6, 0.1,
  0.7, 0.1, 0.5, 0.1, 0.8, 0.1, 0.6, 0.1,
  0.9, 0.1, 0.6, 0.1, 0.6, 0.1, 0.4, 0.1,
  0.8, 0.1, 0.6, 0.1, 1, 0.1, 0.7, 0.1,
  0.7, 0.1, 0.5, 0.1, 0.8, 0.1, 0.6, 0.1,
  0.9, 0.1, 0.6, 0.1, 0.7, 0.1, 0.5, 0.1,
  0.6, 0.1, 0.5, 0.1, 0.9, 0.2, 0.6, 0.1,
  0.8, 0.1, 0.6, 0.1, 0.7, 0.1, 0.5, 0.1,
  1, 0.1, 0.7, 0.1, 0.8, 0.1, 0.6, 0.1,
  0.7, 0.1, 0.5, 0.1, 0.9, 0.2, 0.6, 0.1,
  0.8, 0.1, 0.6, 0.1, 0.6, 0.1, 0.4, 0.1,
  0.9, 0.2, 0.6, 0.1, 0.7, 0.1, 0.5, 0.1,
  0.8, 0.1, 0.6, 0.1, 1.1, 0.2, 0.7, 0.1,
  0.9, 0.1, 0.6, 0.1, 0.7, 0.1, 0.5, 0.1,
  1.2, 0.2, 0.8, 0.1, 0.8, 0.1, 0.6, 0.1,
  0.9, 0.1, 0.6, 0.1, 1, 0.2, 0.7, 0.1,
  0.7, 0.1, 0.5, 0.1, 1.1, 0.1, 0.7, 0.1,
  0.9, 0.2, 0.6, 0.1, 0.8, 0.1, 0.5, 0.1,
  1.2, 0.1, 0.8, 0.1, 0.9, 0.2, 0.6, 0.1,
  0.8, 0.1, 0.6, 0.1, 1, 0.1, 0.7, 0.1,
  0.7,
];

// labelled y ticks per panel
const windowTicks = [0, 0.5, 1.0];
const f1Ticks = [0, 20];
const f2Ticks = [0, 10];
const f3Ticks = [0, 10];
const f4Ticks = [0, 5];
const f5Ticks = [0, 5];
const f6Ticks = [0, 2, 4];
const f7Ticks = [0, 2, 4];
const f8Ticks = [0, 2, 4];
const f9Ticks = [0, 1, 2, 3];
const residualTicks = [0, 1, 2];

type PanelSpec = {
  id: string;
  amp: number[];
  yMax: number;
  yTicks: number[];
  decimals: number;
  col: number;
  row: number;
  showX: boolean;
};

const PANELS: PanelSpec[] = [
  { id: "window", amp: windowAmp, yMax: 1.0, yTicks: windowTicks, decimals: 1, col: 0, row: 0, showX: false },
  { id: "f2", amp: f2Amp, yMax: 17.5, yTicks: f2Ticks, decimals: 0, col: 0, row: 1, showX: false },
  { id: "f4", amp: f4Amp, yMax: 11.5, yTicks: f4Ticks, decimals: 0, col: 0, row: 2, showX: false },
  { id: "f6", amp: f6Amp, yMax: 6.7, yTicks: f6Ticks, decimals: 0, col: 0, row: 3, showX: false },
  { id: "f8", amp: f8Amp, yMax: 4.5, yTicks: f8Ticks, decimals: 0, col: 0, row: 4, showX: false },
  { id: "res", amp: residualAmp, yMax: 2.5, yTicks: residualTicks, decimals: 0, col: 0, row: 5, showX: true },
  { id: "f1", amp: f1Amp, yMax: 38, yTicks: f1Ticks, decimals: 0, col: 1, row: 0, showX: false },
  { id: "f3", amp: f3Amp, yMax: 17.5, yTicks: f3Ticks, decimals: 0, col: 1, row: 1, showX: false },
  { id: "f5", amp: f5Amp, yMax: 10.5, yTicks: f5Ticks, decimals: 0, col: 1, row: 2, showX: false },
  { id: "f7", amp: f7Amp, yMax: 5.75, yTicks: f7Ticks, decimals: 0, col: 1, row: 3, showX: false },
  { id: "f9", amp: f9Amp, yMax: 3.1, yTicks: f9Ticks, decimals: 0, col: 1, row: 4, showX: true },
];

// layout (pixels)
const COLS = [
  { left: 83, width: 267 },
  { left: 467, width: 323 },
];
const TOP = 48;
const PANEL_H = 69;
const Y_AXIS_W = 40;
const PAD_T = 8;
const PAD_R = 12;
const PAD_B = 8;
const X_AXIS_H = 22;
const TICK_LEN = 4;

const SANS = '"DejaVu Sans", "Liberation Sans", sans-serif';
const SERIF = '"Liberation Serif", "Times New Roman", serif';

const framePlugin = {
  id: "frameTicks",
  afterDatasetsDraw(chart: any) {
    const { ctx, chartArea, scales } = chart;
    const { left, right, top, bottom } = chartArea;
    const x = scales.x;
    const y = scales.y;
    ctx.save();
    ctx.strokeStyle = "#000";
    ctx.lineWidth = 1;
    ctx.strokeRect(left, top, right - left, bottom - top);
    ctx.beginPath();
    for (const t of x.ticks) {
      const px = x.getPixelForValue(t.value);
      ctx.moveTo(px, bottom);
      ctx.lineTo(px, bottom - TICK_LEN);
      ctx.moveTo(px, top);
      ctx.lineTo(px, top + TICK_LEN);
    }
    for (const t of y.ticks) {
      const py = y.getPixelForValue(t.value);
      ctx.moveTo(left, py);
      ctx.lineTo(left + TICK_LEN, py);
      ctx.moveTo(right, py);
      ctx.lineTo(right - TICK_LEN, py);
    }
    ctx.stroke();
    ctx.restore();
  },
};

function Panel({ p }: { p: PanelSpec }) {
  const ref = useRef<HTMLCanvasElement | null>(null);
  const col = COLS[p.col];
  const plotTop = TOP + p.row * PANEL_H;
  const cw = Y_AXIS_W + col.width + PAD_R;
  const ch = PAD_T + PANEL_H + (p.showX ? X_AXIS_H : PAD_B);

  useEffect(() => {
    if (!ref.current) return;
    const points = p.amp.map((v, i) => ({ x: i * FREQ_STEP, y: v }));
    const chart = new Chart(ref.current, {
      type: "line",
      data: {
        datasets: [
          {
            data: points,
            borderColor: "#000",
            borderWidth: 1,
            borderJoinStyle: "round",
            pointRadius: 0,
            tension: 0,
            fill: false,
          },
        ],
      },
      options: {
        animation: false,
        responsive: false,
        maintainAspectRatio: false,
        devicePixelRatio: 1,
        layout: {
          padding: { left: 0, right: PAD_R, top: PAD_T, bottom: p.showX ? 0 : PAD_B },
        },
        plugins: {
          legend: { display: false },
          tooltip: { enabled: false },
        },
        scales: {
          x: {
            type: "linear",
            min: 0,
            max: 50,
            grid: { display: false, drawTicks: false },
            border: { display: false },
            ticks: {
              display: p.showX,
              stepSize: X_TICK_STEP,
              autoSkip: false,
              maxRotation: 0,
              padding: 6,
              color: "#000",
              font: { family: SANS, size: 10 },
              callback: (v: any) => String(v),
            },
            afterFit: (s: any) => {
              s.height = p.showX ? X_AXIS_H : 0;
            },
          },
          y: {
            type: "linear",
            min: 0,
            max: p.yMax,
            grid: { display: false, drawTicks: false },
            border: { display: false },
            afterBuildTicks: (s: any) => {
              s.ticks = p.yTicks.map((v) => ({ value: v }));
            },
            ticks: {
              padding: 4,
              color: "#000",
              font: { family: SANS, size: 10 },
              callback: (v: any) => Number(v).toFixed(p.decimals),
            },
            afterFit: (s: any) => {
              s.width = Y_AXIS_W;
            },
          },
        },
      },
      plugins: [framePlugin],
    });
    return () => chart.destroy();
  }, []);

  return (
    <canvas
      ref={ref}
      width={cw}
      height={ch}
      style={{
        position: "absolute",
        left: col.left - Y_AXIS_W,
        top: plotTop - PAD_T,
        width: cw,
        height: ch,
      }}
    />
  );
}

function Label({ x, y, children, style }: any) {
  return (
    <div
      style={{
        position: "absolute",
        left: x,
        top: y,
        transform: "translate(-50%, -50%)",
        whiteSpace: "nowrap",
        lineHeight: 1,
        color: "#000",
        ...style,
      }}
    >
      {children}
    </div>
  );
}

function FLabel({ x, y, n }: { x: number; y: number; n: number }) {
  return (
    <Label x={x} y={y} style={{ font: `italic 12px ${SANS}` }}>
      f
      <span style={{ fontStyle: "normal", fontSize: 8, position: "relative", top: 3 }}>{n}</span>
    </Label>
  );
}

function FreqLabel({ x, y }: { x: number; y: number }) {
  return (
    <Label x={x} y={y} style={{ font: `15.5px ${SERIF}` }}>
      Frequency (
      <span style={{ fontFamily: SANS, fontSize: 14 }}>d</span>
      <span style={{ fontFamily: SANS, fontSize: 10, position: "relative", top: -6 }}>−1</span>)
    </Label>
  );
}

export default function App() {
  return (
    <div
      style={{
        position: "fixed",
        left: 0,
        top: 0,
        width: 830,
        height: 519,
        background: "#fff",
        overflow: "hidden",
      }}
    >
      {PANELS.map((p) => (
        <Panel key={p.id} p={p} />
      ))}
      <Label x={122} y={30} style={{ font: `16px ${SERIF}` }}>
        star V23
      </Label>
      <Label x={33} y={280} style={{ font: `16.5px ${SERIF}`, transform: "translate(-50%, -50%) rotate(-90deg)" }}>
        V Amplitude (mmag)
      </Label>
      <FreqLabel x={216} y={493} />
      <FreqLabel x={628} y={435} />
      <div
        style={{
          position: "absolute",
          right: 830 - 345,
          top: 85,
          transform: "translateY(-50%)",
          font: `11px ${SERIF}`,
          lineHeight: 1,
        }}
      >
        Window
      </div>
      <div
        style={{
          position: "absolute",
          right: 830 - 345,
          top: 417,
          transform: "translateY(-50%)",
          font: `11px ${SERIF}`,
          lineHeight: 1,
        }}
      >
        Residuals
      </div>
      <FLabel x={97} y={131} n={2} />
      <FLabel x={93} y={200} n={4} />
      <FLabel x={108} y={270} n={6} />
      <FLabel x={111} y={346} n={8} />
      <FLabel x={481} y={63} n={1} />
      <FLabel x={478} y={131} n={3} />
      <FLabel x={483} y={201} n={5} />
      <FLabel x={493} y={271} n={7} />
      <FLabel x={471} y={337} n={9} />
    </div>
  );
}
